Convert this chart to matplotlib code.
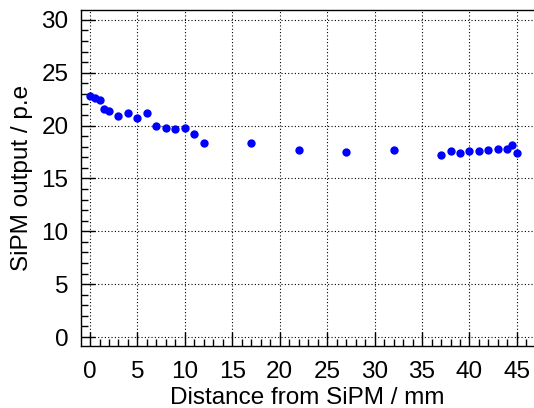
import matplotlib
matplotlib.use('Agg')
import matplotlib.pyplot as plt
from matplotlib.ticker import MultipleLocator

dist = [0, 0.5, 1, 1.5, 2, 3, 4, 5, 6, 7, 8, 9, 10, 11, 12, 17, 22, 27, 32,
        37, 38, 39, 40, 41, 42, 43, 44, 44.5, 45]
pe = [22.8, 22.6, 22.4, 21.6, 21.4, 20.9, 21.2, 20.7, 21.2, 20.0, 19.8, 19.7,
      19.8, 19.2, 18.4, 18.4, 17.7, 17.5, 17.65, 17.25, 17.6, 17.4, 17.6, 17.6,
      17.7, 17.8, 17.75, 18.2, 17.4]

plt.rcParams['font.family'] = ['Liberation Sans', 'DejaVu Sans']

fig = plt.figure(figsize=(5.34, 4.08), dpi=100)
ax = fig.add_axes([0.1517, 0.152, 0.8483, 0.8235])

ax.plot(dist, pe, 'o', c=(0, 0, 1), markersize=6, markeredgewidth=0)

ax.set_xlim(-0.95, 46.8)
ax.set_ylim(-0.85, 30.94)
ax.xaxis.set_major_locator(MultipleLocator(5))
ax.xaxis.set_minor_locator(MultipleLocator(1))
ax.yaxis.set_major_locator(MultipleLocator(5))
ax.yaxis.set_minor_locator(MultipleLocator(1))
ax.tick_params(which='both', direction='in', top=False, right=False,
               labelsize=17.5, colors='k')
ax.tick_params(which='major', length=10, width=1)
ax.tick_params(which='minor', length=5, width=1)
ax.tick_params(axis='x', pad=11)
ax.tick_params(axis='y', pad=9)

ax.grid(which='major', c='k', linewidth=0.8, linestyle=(0, (1, 2)))
ax.set_axisbelow(True)
for s in ax.spines.values():
    s.set_linewidth(1.0)
ax.spines['right'].set_visible(False)

ax.set_xlabel('Distance from SiPM / mm', fontsize=17.5, labelpad=3)
ax.set_ylabel('SiPM output / p.e', fontsize=17.5, labelpad=6)

fig.savefig('out.png', dpi=100)
plt.close()
